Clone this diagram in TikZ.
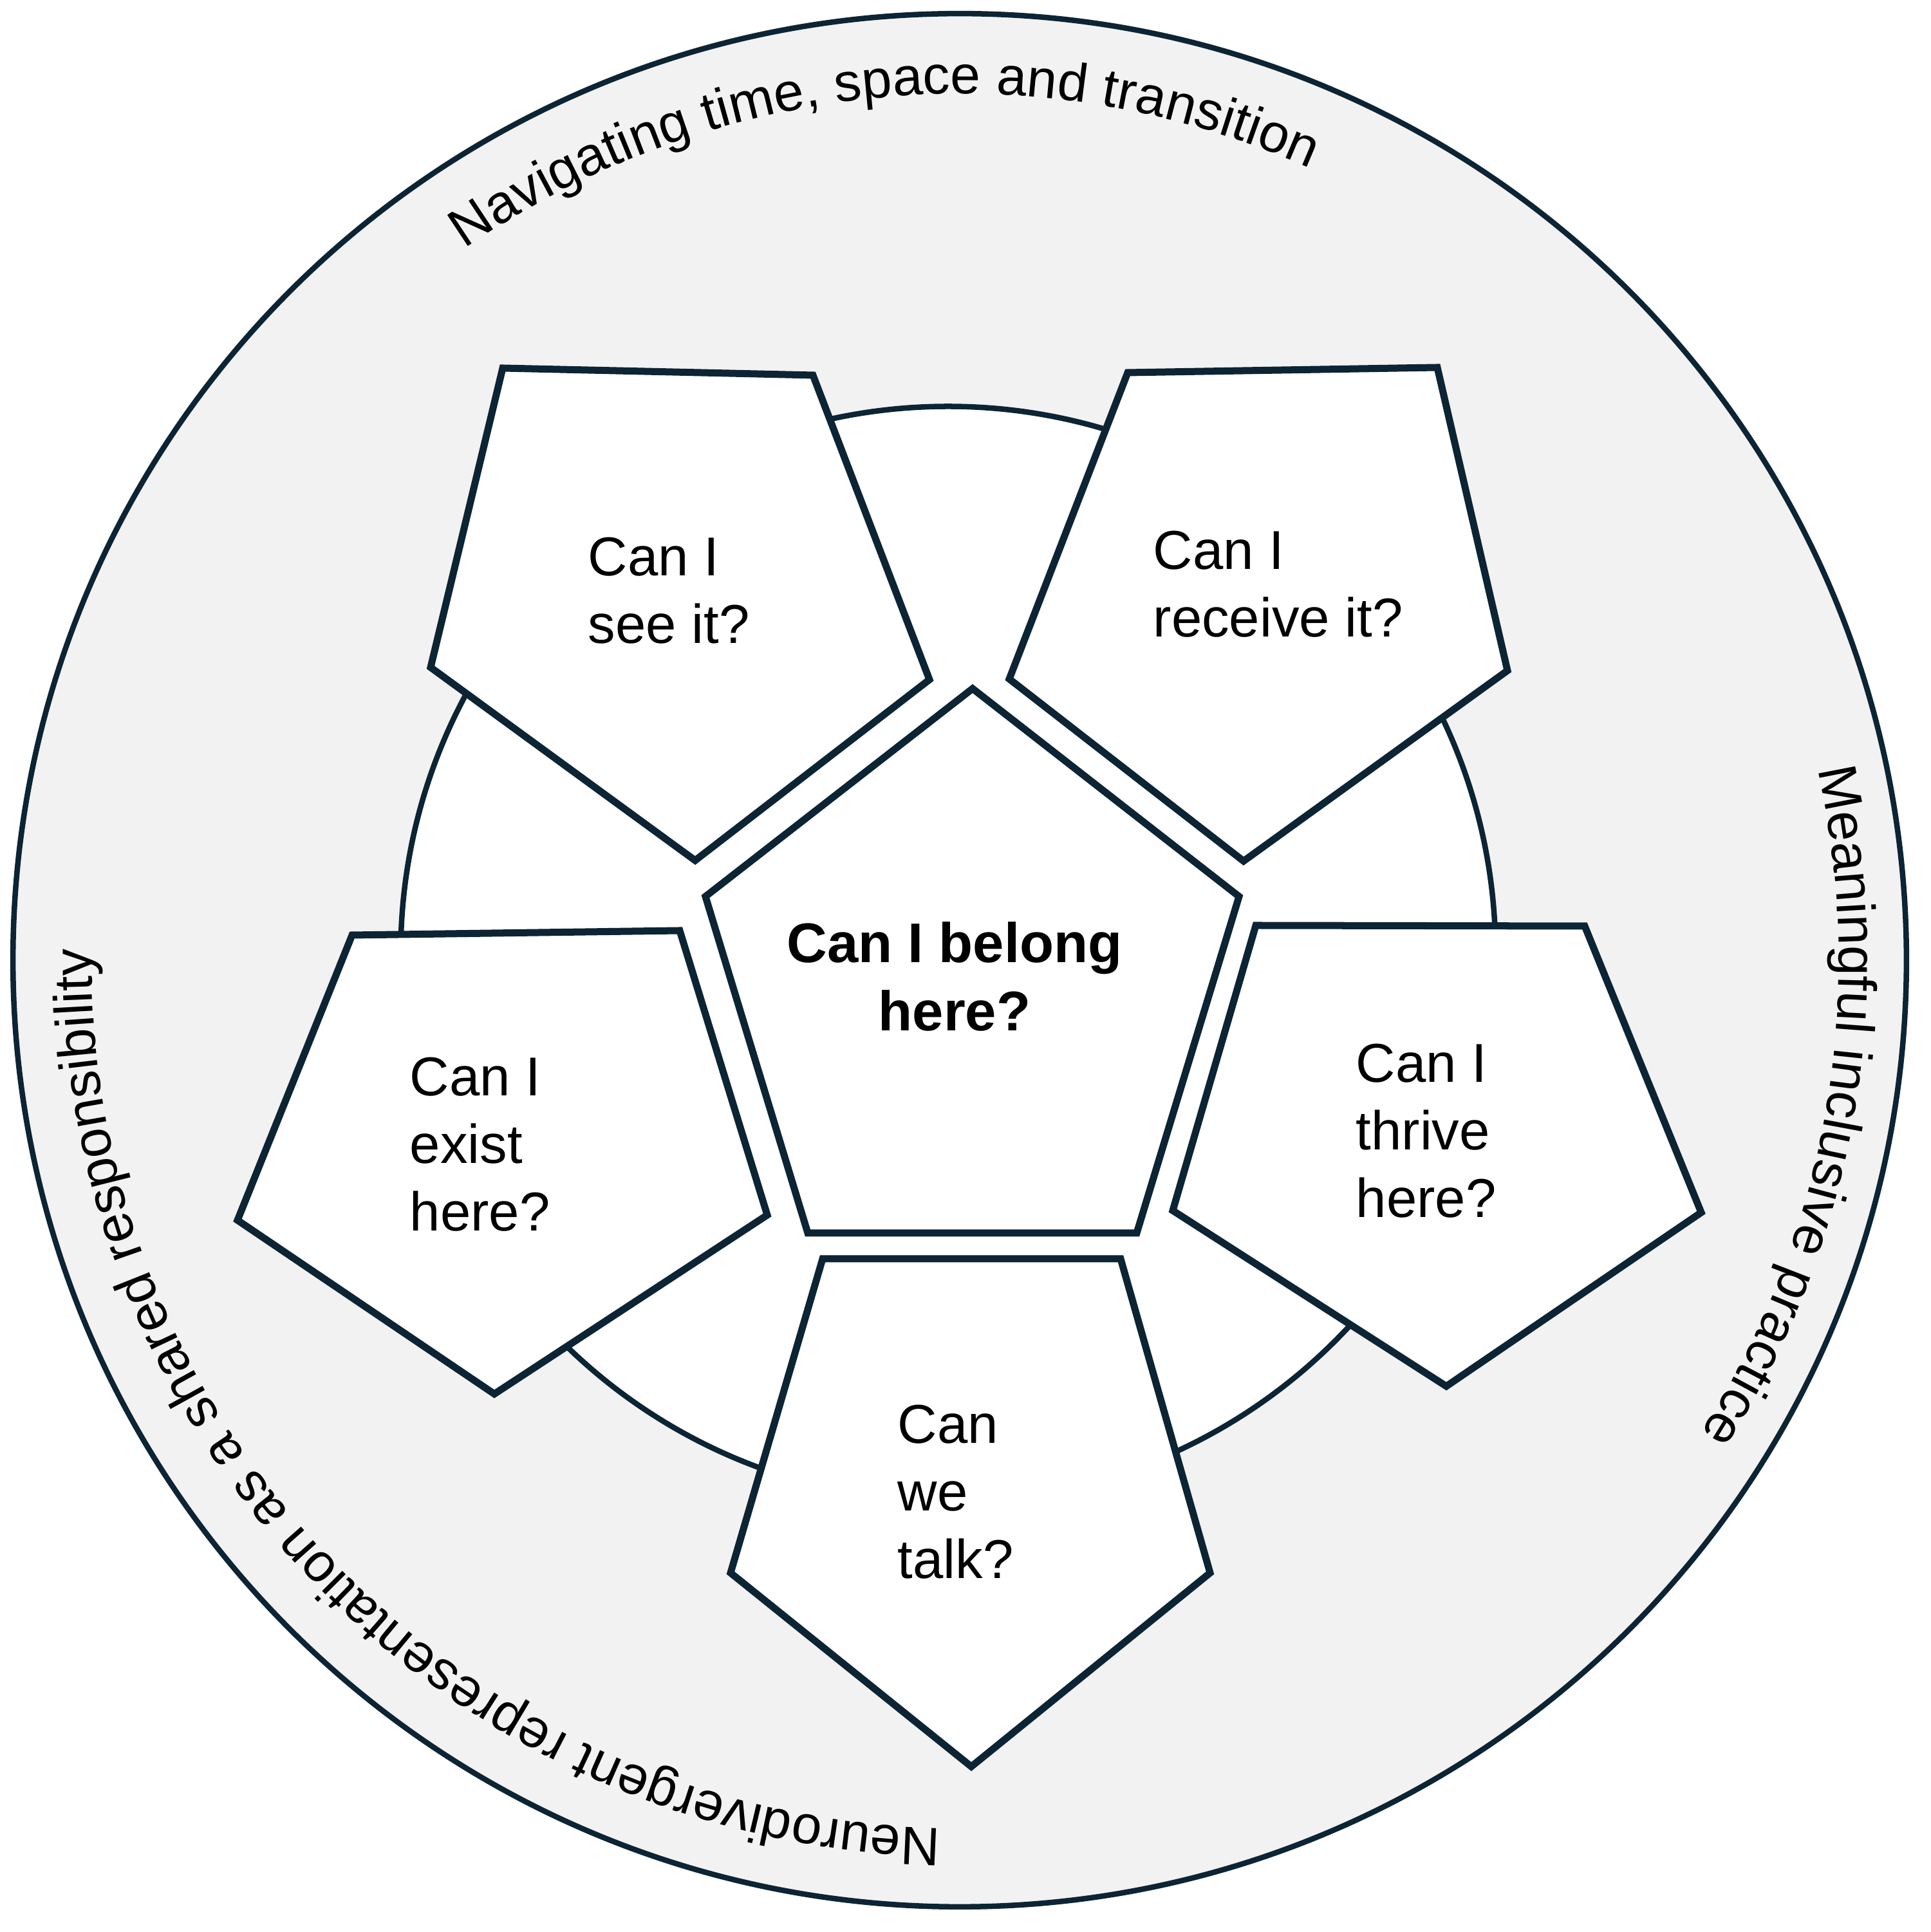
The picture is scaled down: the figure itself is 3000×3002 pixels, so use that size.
\documentclass[tikz,border=0pt]{standalone}
\usepackage{fontspec}
\setmainfont{Liberation Sans}
\usetikzlibrary{decorations.text}
\definecolor{navy}{RGB}{12,36,52}
\definecolor{ringgrey}{RGB}{242,242,242}
\newcommand\ringfont{\fontsize{23.9pt}{28pt}\selectfont}
\begin{document}
\begin{tikzpicture}[x=0.01cm,y=0.01cm,
  pent/.style={draw=navy, fill=white, line width=0.11cm, line join=miter},
  ring/.style={draw=navy, line width=0.085cm},
  qtext/.style={align=left, anchor=base west, inner sep=0pt, font=\fontsize{24.2pt}{29.9pt}\selectfont},
  ctext/.style={align=center, anchor=base, inner sep=0pt, font=\fontsize{24.7pt}{30.4pt}\selectfont\bfseries},
  ringtext/.style={decorate, decoration={text along path, text align=center, text={|\ringfont|#1}}}
]
\fill[white] (0,0) rectangle (3000,3002);
\useasboundingbox (0,0) rectangle (3000,3002);
\coordinate (oc) at (1491,1510);
\coordinate (ic) at (1473,1520);
% outer ring
\draw[ring, fill=ringgrey] (oc) circle[radius=14.70cm];
% inner circle
\draw[ring, fill=white] (ic) circle[radius=8.50cm];
% centre pentagon
\draw[pent] (1511,1932) -- (1925,1609) -- (1766,1086) -- (1255,1086) -- (1096,1609) -- cycle;
% top-left
\draw[pent] (781,2430) -- (1263,2419) -- (1444,1946) -- (1080,1665) -- (669,1965) -- cycle;
% top-right
\draw[pent] (1752,2423) -- (2233,2431) -- (2342,1960) -- (1932,1664) -- (1568,1947) -- cycle;
% left
\draw[pent] (547,1549) -- (1056,1556) -- (1192,1114) -- (768,836) -- (369,1106) -- cycle;
% right
\draw[pent] (1951,1564) -- (2462,1563) -- (2643,1118) -- (2247,848) -- (1822,1121) -- cycle;
% bottom
\draw[pent] (1278,1046) -- (1741,1046) -- (1880,558) -- (1509,257) -- (1135,558) -- cycle;
% texts (anchor = baseline of the last line)
\node[ctext] (belong) at (1483,1400) {Can I belong\\here?};
\node[qtext] (see) at (913,2002) {Can I\\see it?};
\node[qtext] (receive) at (1791,2012) {Can I\\receive it?};
\node[qtext] (exist) at (636,1089) {Can I\\exist\\here?};
\node[qtext] (thrive) at (2106,1110) {Can I\\thrive\\here?};
\node[qtext] (talk) at (1394,549) {Can\\we\\talk?};
% ring labels
\path[ringtext={Navigating time, space and transition}] ([shift={(155.5:13.45cm)}]oc) arc[start angle=155.5, end angle=35.5, radius=13.45cm];
\path[ringtext={Meaningful inclusive practice}] ([shift={(50:13.65cm)}]oc) arc[start angle=50, end angle=-70, radius=13.65cm];
\path[ringtext={Neurodivergent representation as a shared responsibility}] ([shift={(284:13.48cm)}]oc) arc[start angle=284, end angle=164, radius=13.48cm];
\end{tikzpicture}
\end{document}
